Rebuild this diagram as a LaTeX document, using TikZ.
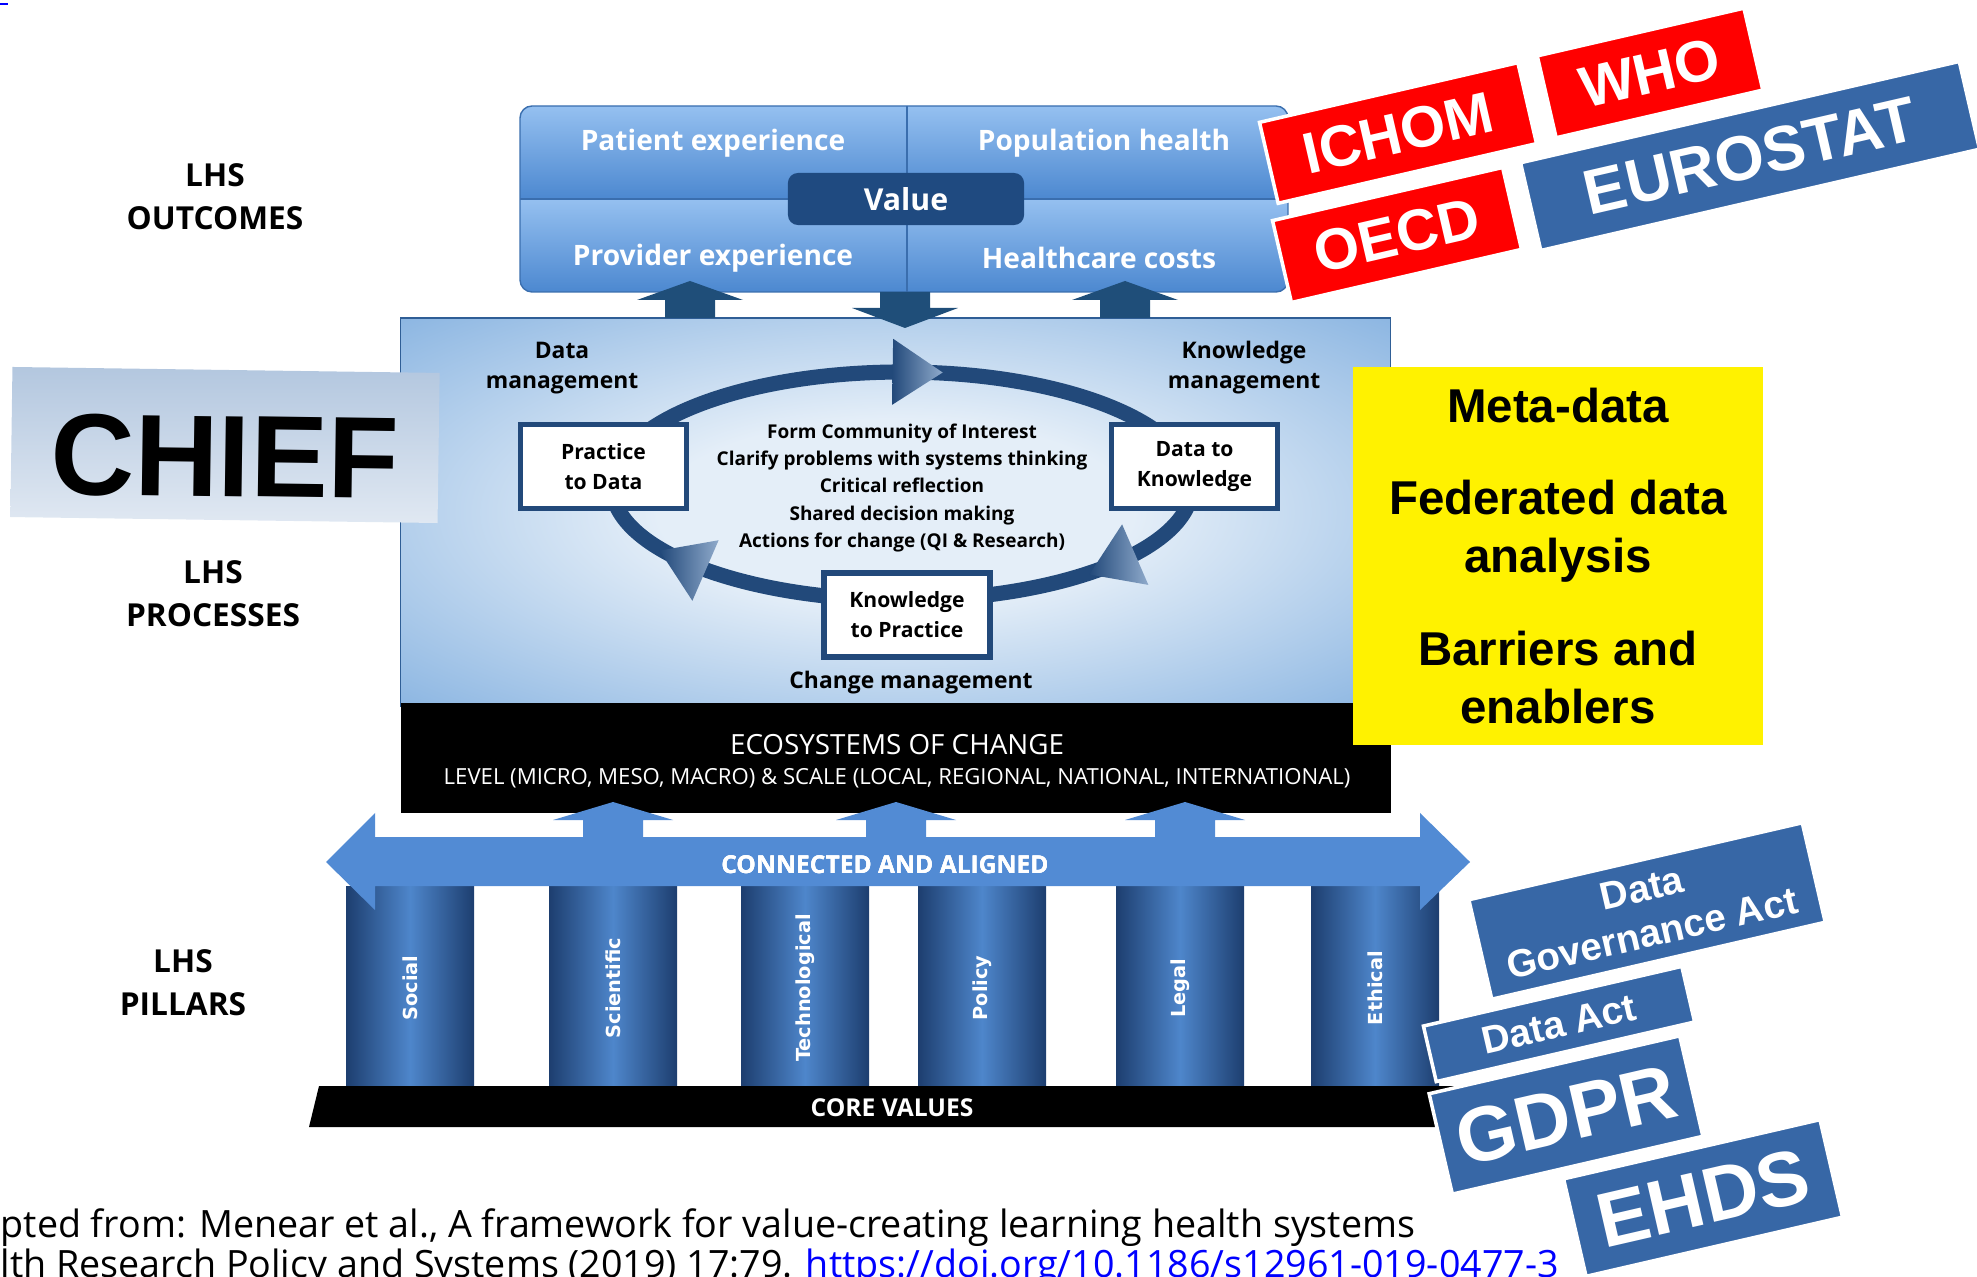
\documentclass[tikz,border=0pt]{standalone}
\usepackage{fontspec}
\setmainfont{Open Sans}
\newfontfamily\tagfont{Liberation Sans}
\newfontfamily\pillarfont{DejaVu Sans}
\usetikzlibrary{positioning, calc, decorations.markings}

\definecolor{navy}{HTML}{1F4E79}
\definecolor{valnavy}{HTML}{1F4A80}
\definecolor{ringblue}{HTML}{22497A}
\definecolor{headlight}{HTML}{8FAACB}
\definecolor{skyA}{HTML}{95C0F0}
\definecolor{skyB}{HTML}{4C88D0}
\definecolor{boxedge}{HTML}{3A6EAE}
\definecolor{procIn}{HTML}{E4EEF8}
\definecolor{procOut}{HTML}{5D98D6}
\definecolor{procEdge}{HTML}{2F5E96}
\definecolor{bandblue}{HTML}{528BD4}
\definecolor{pillarDark}{HTML}{1D3E6F}
\definecolor{pillarLight}{HTML}{4E86CB}
\definecolor{tagred}{HTML}{FF0000}
\definecolor{tagblue}{HTML}{3767A6}
\definecolor{chiefTop}{HTML}{B3C7DF}
\definecolor{chiefBot}{HTML}{E0E8F2}
\definecolor{linkblue}{HTML}{0000FF}

\newcommand{\fsz}[2]{\fontsize{#1}{#2}\selectfont}
\newcommand{\blockarrow}[7]{\fill[#7] (#1,#2) -- (#1+#5,#3) -- (#1+#6,#3) -- (#1+#6,#4)
  -- (#1-#6,#4) -- (#1-#6,#3) -- (#1-#5,#3) -- cycle;}
\newcommand{\ringhead}{\shade[left color=ringblue, right color=headlight]
  (30,0) -- (-20,33) -- (-20,-33) -- cycle;}

\pgfdeclareradialshading{procglow}{\pgfpoint{0bp}{0bp}}{%
  color(0bp)=(procIn); color(12bp)=(procIn); color(48bp)=(procOut); color(72bp)=(procOut)}

\begin{document}
\begin{tikzpicture}[x=0.01cm, y=-0.01cm, every node/.style={inner sep=0pt},
  lhs/.style={font=\bfseries\fsz{9pt}{12.2pt}, align=center},
  quad/.style={text=white, font=\bfseries\fsz{8pt}{9.6pt}},
  mgmt/.style={font=\bfseries\fsz{6.5pt}{8.5pt}, align=center},
  stagebox/.style={draw=ringblue, line width=1.5pt, fill=white, minimum width=1.66cm,
    minimum height=0.84cm, align=center, font=\bfseries\fsz{6pt}{8.5pt}},
  tag/.style={text=white, draw=white, line width=1pt, rotate=13, align=center},
  redtag/.style={tag, fill=tagred, font=\tagfont\bfseries\fsz{16.5pt}{19pt}},
  bluetag/.style={tag, fill=tagblue},
  pillarlabel/.style={text=white, rotate=90, font=\pillarfont\bfseries\fsz{5.5pt}{6.5pt}},
  cite/.style={anchor=base west, font=\fsz{10.7pt}{12.5pt}}]
\useasboundingbox (0,0) rectangle (1977,1277);

\draw[linkblue, line width=0.6pt] (0,4) -- (8,4);

\node[lhs] (lhsO) at (215,197) {LHS\\OUTCOMES};
\node[lhs] (lhsP) at (213,594) {LHS\\PROCESSES};
\node[lhs] (lhsL) at (183,983) {LHS\\PILLARS};

% outcomes
\begin{scope}
  \clip[rounded corners=0.12cm] (520,106) rectangle (1288,292);
  \shade[top color=skyA, bottom color=skyB] (520,106) rectangle (1288,199);
  \shade[top color=skyA, bottom color=skyB] (520,199) rectangle (1288,292);
\end{scope}
\draw[boxedge, rounded corners=0.12cm] (520,106) rectangle (1288,292);
\draw[boxedge] (520,199) -- (1288,199) (907,106) -- (907,292);
\node[quad] (pe) at (713,143) {Patient experience};
\node[quad] (ph) at (1104,143) {Population health};
\node[quad] (pv) at (713,258) {Provider experience};
\node[quad] (hc) at (1099,258) {Healthcare costs};
\node[quad, fill=valnavy, rounded corners=0.1cm, minimum width=2.36cm, minimum height=0.52cm,
  font=\bfseries\fsz{8.6pt}{10pt}] (val) at (906,199) {Value};

% processes
\node[shade, shading=procglow, draw=procEdge, minimum width=9.89cm, minimum height=3.88cm] (proc) at (895.5,512) {};
\draw[ringblue, line width=4.3pt, postaction={decorate}, decoration={markings,
    mark=at position 0.085 with {\ringhead},
    mark=at position 0.415 with {\ringhead},
    mark=at position 0.758 with {\ringhead}}]
  (902,486) ellipse [x radius=290, y radius=114];
\node[stagebox] (p2d) at (603.5,466.5) {Practice\\to Data};
\node[stagebox] (d2k) at (1194.5,466.5) {Data to\\Knowledge};
\node[stagebox] (k2p) at (907,615) {Knowledge\\to Practice};
\node[font=\bfseries\fsz{5.4pt}{7.7pt}, align=center] (steps) at (902,488)
  {Form Community of Interest\\Clarify problems with systems thinking\\Critical reflection\\
   Shared decision making\\Actions for change (QI \& Research)};
\node[mgmt] (dm) at (562,368) {Data\\management};
\node[mgmt] (km) at (1244,368) {Knowledge\\management};
\node[mgmt] (cm) at (911,683) {Change management};

\blockarrow{690}{281}{300}{318}{53}{25}{navy}
\blockarrow{905}{328}{308}{292}{53}{25}{navy}
\blockarrow{1125}{281}{300}{318}{53}{25}{navy}

\node[fill=black, minimum width=9.9cm, minimum height=1.1cm] (eco) at (896,758) {};
\node[text=white, font=\fsz{7.9pt}{9pt}] (ecoT) at (897,745) {ECOSYSTEMS OF CHANGE};
\node[text=white, font=\fsz{6.3pt}{7.5pt}] (ecoS) at (897,778)
  {LEVEL (MICRO, MESO, MACRO) \& SCALE (LOCAL, REGIONAL, NATIONAL, INTERNATIONAL)};

% pillars
\foreach \x/\name in {410/Social, 613/Scientific, 805/Technological, 982/Policy, 1180/Legal, 1375/Ethical} {
  \shade[left color=pillarDark, right color=pillarDark, middle color=pillarLight]
    (\x-64,886) rectangle (\x+64,1086);
  \node[pillarlabel] (pil-\name) at (\x,988) {\name};
}
\fill[bandblue] (326,862) -- (375,813) -- (375,837) -- (1420,837) -- (1420,813) -- (1470,862)
  -- (1420,910) -- (1420,886) -- (375,886) -- (375,910) -- cycle;
\foreach \x in {613,896,1185}
  \blockarrow{\x}{802}{820}{838}{60}{30}{bandblue}
\node[text=white, font=\bfseries\fsz{7pt}{8pt}] (ca) at (885,865) {CONNECTED AND ALIGNED};
\fill[black] (319,1086) -- (1476,1086) -- (1466,1127) -- (309,1127) -- cycle;
\node[text=white, font=\bfseries\fsz{7pt}{8pt}] (core) at (892,1108) {CORE VALUES};

\node[top color=chiefTop, bottom color=chiefBot, minimum width=4.27cm, minimum height=1.5cm,
  rotate=-0.8, text height=29.6pt, font=\tagfont\bfseries\fsz{33pt}{36pt}] (chief) at (225,445) {CHIEF};

\node[fill=yellow, minimum width=4.09cm, minimum height=3.78cm, align=center,
  font=\tagfont\bfseries\fsz{13.5pt}{16.5pt}] (meta) at (1558,556)
  {Meta-data\\[9.7pt]Federated data\\analysis\\[9.7pt]Barriers and\\enablers};

% agencies
\node[redtag, minimum width=2.65cm, minimum height=0.83cm] (ichom) at (1398,133) {ICHOM};
\node[redtag, minimum width=2.12cm, minimum height=0.84cm] (who) at (1650,73) {WHO};
\node[redtag, minimum width=2.36cm, minimum height=0.84cm] (oecd) at (1397,235) {OECD};
\node[bluetag, minimum width=4.5cm, minimum height=0.9cm, font=\tagfont\bfseries\fsz{18pt}{20pt}] (euro) at (1750,156) {EUROSTAT};

% regulations
\node[bluetag, minimum width=3.42cm, minimum height=1.02cm, font=\tagfont\bfseries\fsz{11pt}{13pt}] (dga) at (1647,911) {Data\\Governance Act};
\node[bluetag, minimum width=2.65cm, minimum height=0.57cm, font=\tagfont\bfseries\fsz{11pt}{13pt}] (dact) at (1559,1024) {Data Act};
\node[bluetag, minimum width=2.57cm, minimum height=1.03cm, font=\tagfont\bfseries\fsz{22pt}{24pt}] (gdpr) at (1566,1115) {GDPR};
\node[bluetag, minimum width=2.63cm, minimum height=1.0cm, font=\tagfont\bfseries\fsz{22pt}{24pt}] (ehds) at (1703,1198) {EHDS};

\node[cite] (src) at (0,1237) {pted from: Menear et al., A framework for value-creating learning health systems};
\node[cite] (doi) at (0,1277) {lth Research Policy and Systems (2019) 17:79. {\color{linkblue}\underline{https://doi.org/10.1186/s12961-019-0477-3}}};
\end{tikzpicture}
\end{document}
